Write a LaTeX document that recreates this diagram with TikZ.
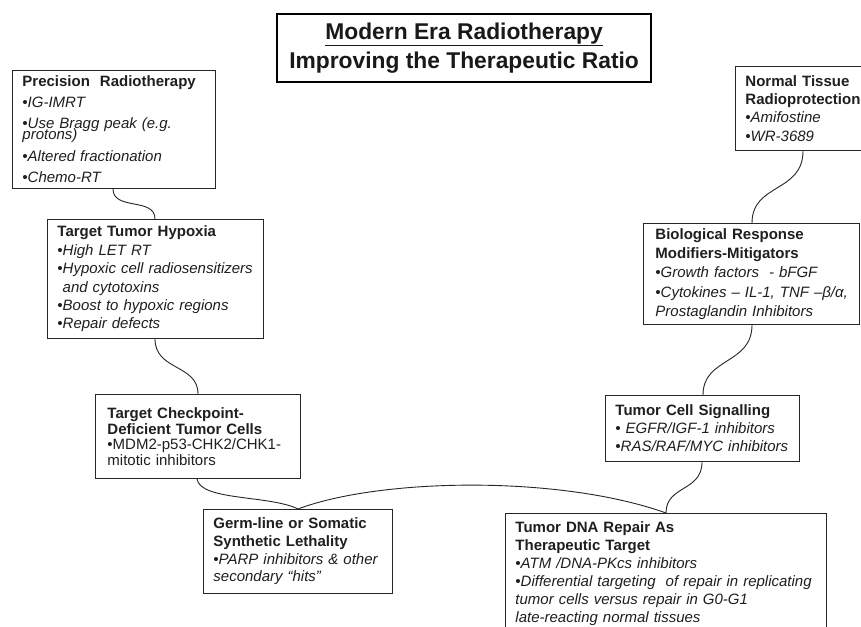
\documentclass[tikz,border=0pt]{standalone}
\usepackage{fontspec}
\setmainfont{Liberation Sans}
\usetikzlibrary{calc}
\newcommand\oneline[1]{\mbox{#1}}
\tikzset{
  box/.style={draw=black!85, line width=0.9pt, anchor=north west, align=left,
    inner xsep=10pt, inner ysep=0pt, text=black!88},
  conn/.style={draw=black!85, line width=0.9pt},
  titlebox/.style={draw=black, line width=2.2pt, anchor=north west, align=center,
    inner sep=0pt, text=black!90, font=\fontsize{22.8}{29}\selectfont\bfseries},
}
\begin{document}
\begin{tikzpicture}[x=1pt,y=-1pt]
\clip (0,0) rectangle (861,626);
\fill[white] (0,0) rectangle (861,626);

\node[titlebox, minimum width=374pt, minimum height=68pt] (title) at (276,13)
  {\underline{Modern Era Radiotherapy}\\Improving the Therapeutic Ratio};

\node[box, text width=183pt, minimum height=118pt, font=\fontsize{15}{18}\selectfont] (prec) at (12,70)
  {\oneline{\bfseries Precision\ \ Radiotherapy}\\[3pt]
   \oneline{\itshape •IG-IMRT}\\[3pt]
   \oneline{\itshape •Use Bragg peak (e.g.}\\[-7pt]
   \oneline{\itshape protons)}\\[4pt]
   \oneline{\itshape •Altered fractionation}\\[3pt]
   \oneline{\itshape •Chemo-RT}};

\node[box, text width=196pt, minimum height=119pt, font=\fontsize{15}{18.4}\selectfont] (hyp) at (47,219)
  {\oneline{\bfseries Target Tumor Hypoxia}\\
   \oneline{\itshape •High LET RT}\\
   \oneline{\itshape •Hypoxic cell radiosensitizers}\\
   \oneline{\itshape \phantom{•}and cytotoxins}\\
   \oneline{\itshape •Boost to hypoxic regions}\\
   \oneline{\itshape •Repair defects}};

\node[box, inner xsep=12pt, text width=181pt, minimum height=84pt, font=\fontsize{15}{15.5}\selectfont] (chk) at (95,394)
  {\oneline{\bfseries Target Checkpoint-}\\
   \oneline{\bfseries Deficient Tumor Cells}\\
   \oneline{•MDM2-p53-CHK2/CHK1-}\\
   \oneline{mitotic inhibitors}};

\node[box, text width=169pt, minimum height=84pt, font=\fontsize{15}{17.7}\selectfont] (germ) at (203,509)
  {\oneline{\bfseries Germ-line or Somatic}\\
   \oneline{\bfseries Synthetic Lethality}\\
   \oneline{\itshape •PARP inhibitors \& other}\\
   \oneline{\itshape secondary “hits”}};

\node[box, text width=301pt, minimum height=120pt, font=\fontsize{15}{18}\selectfont] (dna) at (505,513)
  {\oneline{\bfseries Tumor DNA Repair As}\\
   \oneline{\bfseries Therapeutic Target}\\
   \oneline{\itshape •ATM /DNA-PKcs inhibitors}\\
   \oneline{\itshape •Differential targeting\ \ of repair in replicating}\\
   \oneline{\itshape tumor cells versus repair in G0-G1}\\
   \oneline{\itshape late-reacting normal tissues}};

\node[box, text width=174pt, minimum height=66pt, font=\fontsize{15}{18}\selectfont] (sig) at (605,395)
  {\oneline{\bfseries Tumor Cell Signalling}\\
   \oneline{\itshape • EGFR/IGF-1 inhibitors}\\
   \oneline{\itshape •RAS/RAF/MYC inhibitors}};

\node[box, inner xsep=12pt, text width=192pt, minimum height=101pt, font=\fontsize{15}{19.2}\selectfont] (bio) at (643,223)
  {\oneline{\bfseries Biological Response}\\
   \oneline{\bfseries Modifiers-Mitigators}\\
   \oneline{\itshape •Growth factors\ \ - bFGF}\\
   \oneline{\itshape •Cytokines – IL-1, TNF –β/α,}\\
   \oneline{\itshape Prostaglandin Inhibitors}};

\node[box, text width=125pt, minimum height=84pt, font=\fontsize{15}{18.3}\selectfont] (norm) at (735,66)
  {\oneline{\bfseries Normal Tissue}\\
   \oneline{\bfseries Radioprotection}\\
   \oneline{\itshape •Amifostine}\\
   \oneline{\itshape •WR-3689}};

% connectors
\draw[conn] ([xshift=101pt]prec.south west) .. controls +(0,22) and +(0,-22) .. ([xshift=108pt]hyp.north west);
\draw[conn] ([xshift=108pt]hyp.south west) .. controls +(0,32) and +(0,-30) .. ([xshift=103pt]chk.north west);
\draw[conn] ([xshift=102pt]chk.south west) .. controls +(3,22) and +(-28,-14) .. ([xshift=95pt]germ.north west);
\draw[conn] ([xshift=95pt]germ.north west) .. controls +(82,-31) and +(-106,-38) .. ([xshift=161pt]dna.north west);
\draw[conn] ([xshift=97pt]sig.south west) .. controls +(0,30) and +(0,-28) .. ([xshift=161pt]dna.north west);
\draw[conn] ([xshift=109pt]bio.south west) .. controls +(0,40) and +(0,-38) .. ([xshift=98pt]sig.north west);
\draw[conn] ([xshift=68pt]norm.south west) .. controls +(0,42) and +(0,-40) .. ([xshift=109pt]bio.north west);
\end{tikzpicture}
\end{document}
